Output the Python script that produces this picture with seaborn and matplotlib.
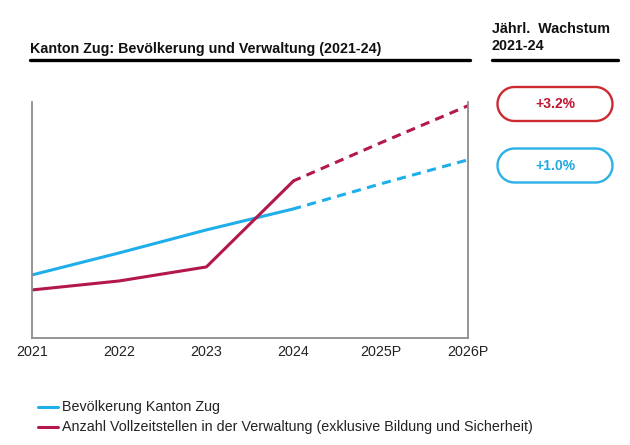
import matplotlib
matplotlib.use("Agg")
import matplotlib.pyplot as plt
import seaborn as sns
import pandas as pd
import numpy as np
from matplotlib.path import Path
from matplotlib.patches import PathPatch

years = ["2021", "2022", "2023", "2024", "2025P", "2026P"]
bevoelkerung = [63, 85, 108, 129, 154, 178]
vollzeitstellen = [48, 57, 71, 157, 195, 232]
label_bev = "Bevölkerung Kanton Zug"
label_vz = "Anzahl Vollzeitstellen in der Verwaltung (exklusive Bildung und Sicherheit)"
growth = ["+3.2%", "+1.0%"]

blue = "#1eaeea"
red = "#b3184a"
fs = 10.3

sns.set_theme(style="white")
plt.rcParams["font.family"] = ["Liberation Sans", "DejaVu Sans"]

rows = []
for i, y in enumerate(years):
    part = "ist" if i <= 3 else "prog"
    rows.append({"x": i, "val": bevoelkerung[i], "serie": label_bev, "part": part})
    rows.append({"x": i, "val": vollzeitstellen[i], "serie": label_vz, "part": part})
    if i == 3:
        rows.append({"x": i, "val": bevoelkerung[i], "serie": label_bev, "part": "prog"})
        rows.append({"x": i, "val": vollzeitstellen[i], "serie": label_vz, "part": "prog"})
df = pd.DataFrame(rows)

fig = plt.figure(figsize=(6.3, 4.45), dpi=100)
ax = fig.add_axes([0.0508, 0.2404, 0.692, 0.531])

pal = {label_bev: blue, label_vz: red}
sns.lineplot(data=df[df.part == "ist"], x="x", y="val", hue="serie", palette=pal,
             linewidth=2.2, ax=ax, legend=False)
for serie in [label_bev, label_vz]:
    d = df[(df.part == "prog") & (df.serie == serie)]
    sns.lineplot(data=d, x="x", y="val", color=pal[serie], linewidth=2.2,
                 linestyle=(0.5, (3, 2.1)), ax=ax, legend=False)

ax.set_xlim(0, 5)
ax.set_ylim(0, 236)
ax.set_xticks(range(len(years)))
ax.set_xticklabels(years, fontsize=fs, color="#222222")
ax.set_yticks([])
ax.set_xlabel("")
ax.set_ylabel("")
ax.tick_params(axis="x", length=0, pad=5)
for s in ["left", "right", "bottom"]:
    ax.spines[s].set_color("#8c8c8c")
    ax.spines[s].set_linewidth(1.3)
ax.spines["top"].set_visible(False)

# Titel und Kopfzeilen
fig.text(30 / 630, 1 - 53 / 445, "Kanton Zug: Bevölkerung und Verwaltung (2021-24)",
         fontsize=fs, fontweight="bold", va="baseline", ha="left", color="#111111")
fig.text(492 / 630, 1 - 33 / 445, "Jährl.  Wachstum", fontsize=fs,
         fontweight="bold", va="baseline", ha="left", color="#111111")
fig.text(492 / 630, 1 - 50 / 445, "2021-24", fontsize=fs,
         fontweight="bold", va="baseline", ha="left", color="#111111")
fig.add_artist(plt.Line2D([30 / 630, 470 / 630], [1 - 60 / 445] * 2, color="black", lw=2.4))
fig.add_artist(plt.Line2D([492 / 630, 618 / 630], [1 - 59.5 / 445] * 2, color="black", lw=2.4))


def stadium(xc, yc, w, h):
    # Pille in Pixelkoordinaten (y von unten)
    r = h / 2
    t1 = np.linspace(-np.pi / 2, np.pi / 2, 30)
    t2 = np.linspace(np.pi / 2, 3 * np.pi / 2, 30)
    xs = np.concatenate([xc + w / 2 - r + r * np.cos(t1), xc - w / 2 + r + r * np.cos(t2)])
    ys = np.concatenate([yc + r * np.sin(t1), yc + r * np.sin(t2)])
    verts = np.column_stack([xs, ys])
    verts = np.vstack([verts, verts[:1]])
    codes = [Path.MOVETO] + [Path.LINETO] * (len(verts) - 2) + [Path.CLOSEPOLY]
    return Path(verts, codes)


# Wachstums-Pillen
pills = [(104, growth[0], "#cc2a30", "#bf1634"), (165.5, growth[1], "#2ab2e6", "#1fa8e2")]
for yc, txt, ec, tc in pills:
    p = stadium(555, 445 - yc, 115, 34)
    fig.add_artist(PathPatch(p, transform=None, fc="white", ec=ec, lw=1.7))
    fig.text(555 / 630, 1 - yc / 445, txt, color=tc, fontsize=10, fontweight="bold",
             ha="center", va="center")

# Legende
for yl, lab, c in [(407, label_bev, blue), (427, label_vz, red)]:
    fig.add_artist(plt.Line2D([38 / 630, 58 / 630], [1 - yl / 445] * 2, color=c, lw=2.2))
    fig.text(62 / 630, 1 - yl / 445, lab, fontsize=fs, va="center", ha="left", color="#222222")

fig.savefig("out.png", dpi=100)
